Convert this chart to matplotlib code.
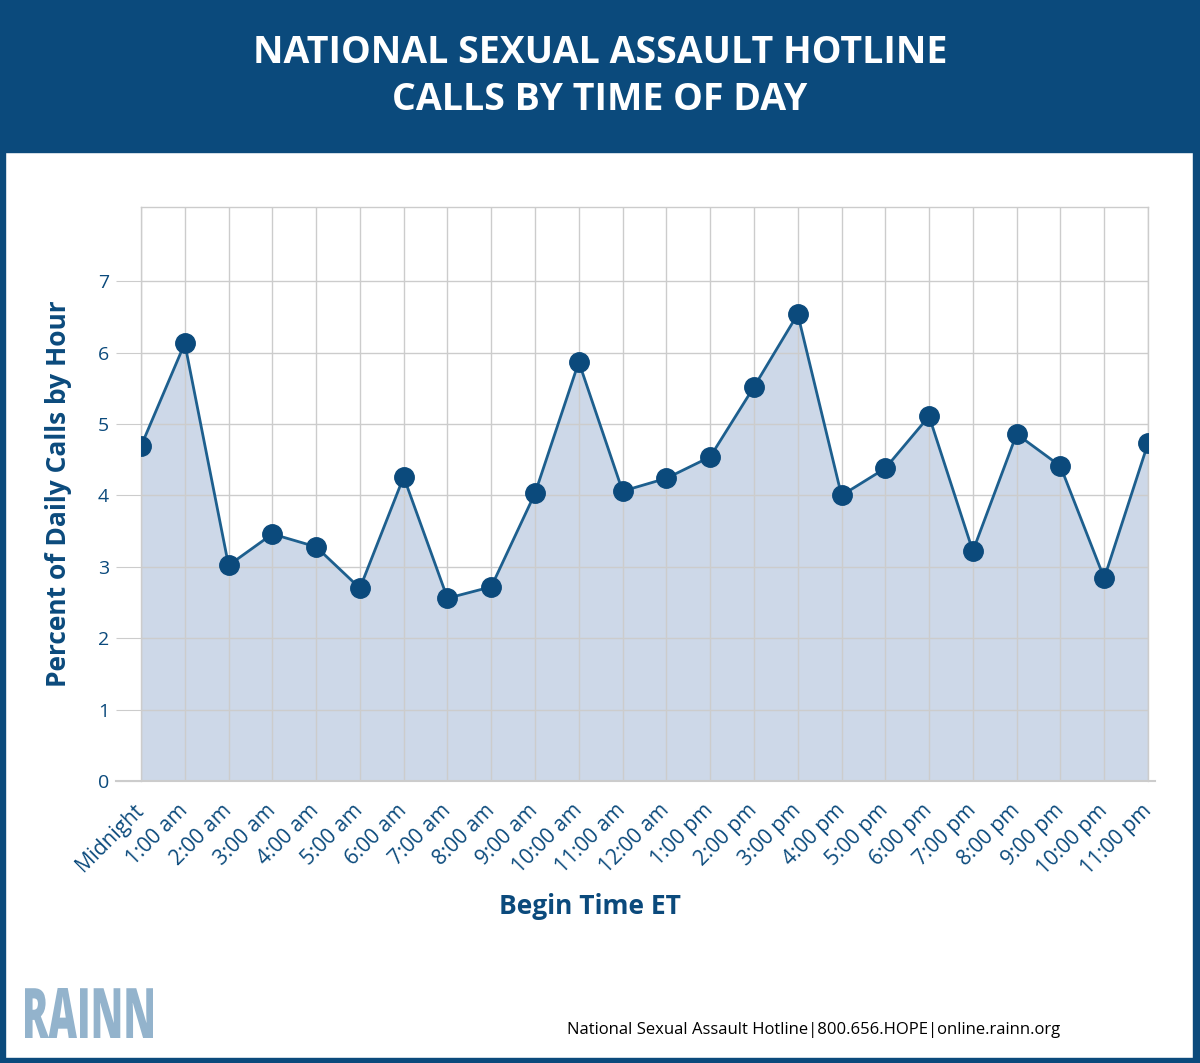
#!/usr/bin/python3
# -*- coding: utf-8 -*-
#
# llamadas a la linea de RAINN por hora del dia
#
import matplotlib
matplotlib.use('Agg')
import matplotlib.pyplot as plt
from matplotlib.patches import Rectangle, PathPatch
from matplotlib.textpath import TextPath
from matplotlib.font_manager import FontProperties
from matplotlib.transforms import Affine2D
import numpy as np

#
# datos
#
horas = ['Midnight', '1:00 am', '2:00 am', '3:00 am', '4:00 am', '5:00 am',
         '6:00 am', '7:00 am', '8:00 am', '9:00 am', '10:00 am', '11:00 am',
         '12:00 am', '1:00 pm', '2:00 pm', '3:00 pm', '4:00 pm', '5:00 pm',
         '6:00 pm', '7:00 pm', '8:00 pm', '9:00 pm', '10:00 pm', '11:00 pm']
porcentaje = [4.69, 6.13, 3.02, 3.46, 3.28, 2.70, 4.26, 2.56, 2.72, 4.03, 5.87, 4.06,
              4.24, 4.54, 5.52, 6.54, 4.00, 4.38, 5.11, 3.22, 4.86, 4.41, 2.84, 4.73]
yticks = [0, 1, 2, 3, 4, 5, 6, 7]

AZUL = '#0b4a7c'
LINEA = '#1d5f8e'
RELLENO = '#cdd8e8'
GRIS = '#cccccc'
LOGO = '#93b3cc'

plt.rcParams['font.family'] = ['Open Sans', 'DejaVu Sans']

W, H = 1200, 1063
fig = plt.figure(figsize=(W / 100, H / 100), dpi=100)
fig.patch.set_facecolor('white')

#
# marco y cabecera (en pixeles, y hacia abajo)
#
def fx(px):
    return px / W

def fy(py):
    return 1 - py / H

fig.add_artist(Rectangle((0, fy(152)), 1, 152 / H, transform=fig.transFigure,
                         color=AZUL, zorder=0))
fig.add_artist(Rectangle((0, 0), fx(5), 1, transform=fig.transFigure, color=AZUL, zorder=0))
fig.add_artist(Rectangle((fx(1193), 0), fx(7), 1, transform=fig.transFigure, color=AZUL, zorder=0))
fig.add_artist(Rectangle((0, 0), 1, 5 / H, transform=fig.transFigure, color=AZUL, zorder=0))

fig.text(0.5, fy(53), 'NATIONAL SEXUAL ASSAULT HOTLINE', color='white', fontsize=27,
         fontweight='bold', ha='center', va='center')
fig.text(0.5, fy(100), 'CALLS BY TIME OF DAY', color='white', fontsize=27,
         fontweight='bold', ha='center', va='center')

#
# grafico
#
ax = fig.add_axes([fx(141), fy(781), fx(1148 - 141), (781 - 207) / H])
x = np.arange(len(horas))
ax.fill_between(x, porcentaje, 0, color=RELLENO, lw=0, zorder=1)
ax.plot(x, porcentaje, color=LINEA, lw=2, zorder=3)
ax.plot(x, porcentaje, 'o', color=AZUL, markersize=14, zorder=4)

ax.set_xlim(0, len(horas) - 1)
ax.set_ylim(0, 8.04)
ax.set_yticks(yticks)
ax.set_xticks(x)
# anclaje en el centro derecho para que queden un poco a la izquierda del tick
ax.set_xticklabels(horas, rotation=45, ha='right', va='center', rotation_mode='anchor')
ax.grid(True, color=GRIS, lw=1, zorder=2)
ax.set_axisbelow(False)
for sp in ['left', 'right', 'top']:
    ax.spines[sp].set_color(GRIS)
    ax.spines[sp].set_linewidth(1)
ax.spines['bottom'].set_visible(False)
# linea base, un poco mas larga que el area
ax.plot([-25 / 1007 * 23, 23 + 7 / 1007 * 23], [0, 0], color=GRIS, lw=1.5,
        clip_on=False, zorder=5)

ax.tick_params(axis='y', length=18, color=GRIS, labelcolor=AZUL, labelsize=14, pad=5)
ax.tick_params(axis='x', length=0, labelcolor=AZUL, labelsize=15, pad=19)

ax.set_ylabel('Percent of Daily Calls by Hour', color=AZUL, fontsize=19,
              fontweight='bold')
ax.set_xlabel('Begin Time ET', color=AZUL, fontsize=19, fontweight='bold')
ax.yaxis.set_label_coords((72 - 141) / 1007, 0.5)
ax.xaxis.set_label_coords((590 - 141) / 1007, -(893 - 781) / (781 - 207))

#
# pie: logo y datos de contacto
#
fp = FontProperties(family='Open Sans', weight='heavy')
tp = TextPath((0, 0), 'RAINN', size=100, prop=fp)
bb = tp.get_extents()
# estirado para que se parezca al logo condensado
tr = (Affine2D().translate(-bb.x0, -bb.y0)
      .scale(128 / bb.width, 50 / bb.height)
      .translate(25, H - 1038)
      .scale(1 / W, 1 / H))
logo = PathPatch(tr.transform_path(tp), color=LOGO, lw=0, transform=fig.transFigure)
fig.add_artist(logo)

fig.text(fx(1060), fy(1030), 'National Sexual Assault Hotline|800.656.HOPE|online.rainn.org',
         color='black', fontsize=12, ha='right', va='center')

fig.savefig('out.png', dpi=100, facecolor=fig.get_facecolor())
